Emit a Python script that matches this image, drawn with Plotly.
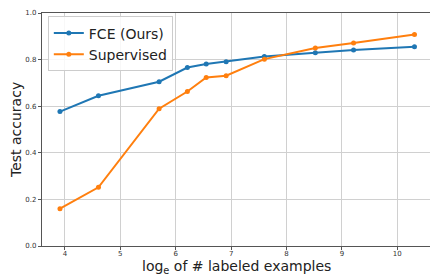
import plotly.graph_objects as go

x_log = [3.91, 4.605, 5.70, 6.21, 6.55, 6.91, 7.60, 8.52, 9.21, 10.31]
fce = [0.577, 0.645, 0.705, 0.766, 0.781, 0.791, 0.813, 0.829, 0.841, 0.855]
supervised = [0.160, 0.252, 0.589, 0.663, 0.723, 0.731, 0.802, 0.850, 0.871, 0.908]
series_names = ["FCE (Ours)", "Supervised"]
x_ticks = [4, 5, 6, 7, 8, 9, 10]
y_ticks = [0.0, 0.2, 0.4, 0.6, 0.8, 1.0]

W, H = 430, 275
L, R, T, B = 42, 0, 13, 29

fig = go.Figure()
fig.add_trace(go.Scatter(x=x_log, y=fce, name=series_names[0], mode="lines+markers",
                         line=dict(color="#1f77b4", width=2), marker=dict(size=5, color="#1f77b4")))
fig.add_trace(go.Scatter(x=x_log, y=supervised, name=series_names[1], mode="lines+markers",
                         line=dict(color="#ff7f0e", width=2), marker=dict(size=5, color="#ff7f0e")))

axis_common = dict(showline=True, linecolor="#555555", linewidth=1.2, mirror=True,
                   showgrid=True, gridcolor="#d0d0d0", gridwidth=1, zeroline=False,
                   ticks="outside", ticklen=3, tickcolor="#555555", automargin=False,
                   tickfont=dict(family="DejaVu Sans", size=7, color="#333333"))

title_font = dict(family="DejaVu Sans", size=14, color="#222222")

fig.update_layout(
    width=W, height=H,
    margin=dict(l=L, r=R, t=T, b=B, autoexpand=False),
    paper_bgcolor="white", plot_bgcolor="white",
    xaxis=dict(range=[3.586, 10.59], tickvals=x_ticks, ticklabelstandoff=-3, **axis_common),
    yaxis=dict(range=[0, 1.0], tickvals=y_ticks, tickformat=".1f", ticklabelstandoff=0, **axis_common),
    legend=dict(x=0.015, y=0.985, xanchor="left", yanchor="top",
                bgcolor="rgba(255,255,255,0.85)", bordercolor="#cccccc", borderwidth=1,
                font=dict(family="DejaVu Sans", size=14, color="#222222"),
                itemwidth=30, tracegroupgap=0),
    showlegend=True,
    annotations=[
        dict(text="log<sub>e</sub> of # labeled examples", xref="paper", yref="paper",
             x=(236 - L) / (W - L - R), y=-(266.5 - (H - B)) / (H - T - B),
             xanchor="center", yanchor="middle", showarrow=False, font=title_font),
        dict(text="Test accuracy", xref="paper", yref="paper",
             x=-(L - 16) / (W - L - R), y=(H - B - 130) / (H - T - B),
             xanchor="center", yanchor="middle", textangle=-90, showarrow=False, font=title_font),
    ],
)

fig.write_html("out.html", config={"displayModeBar": False},
               post_script="document.body.style.margin='0';document.body.style.overflow='hidden';")
